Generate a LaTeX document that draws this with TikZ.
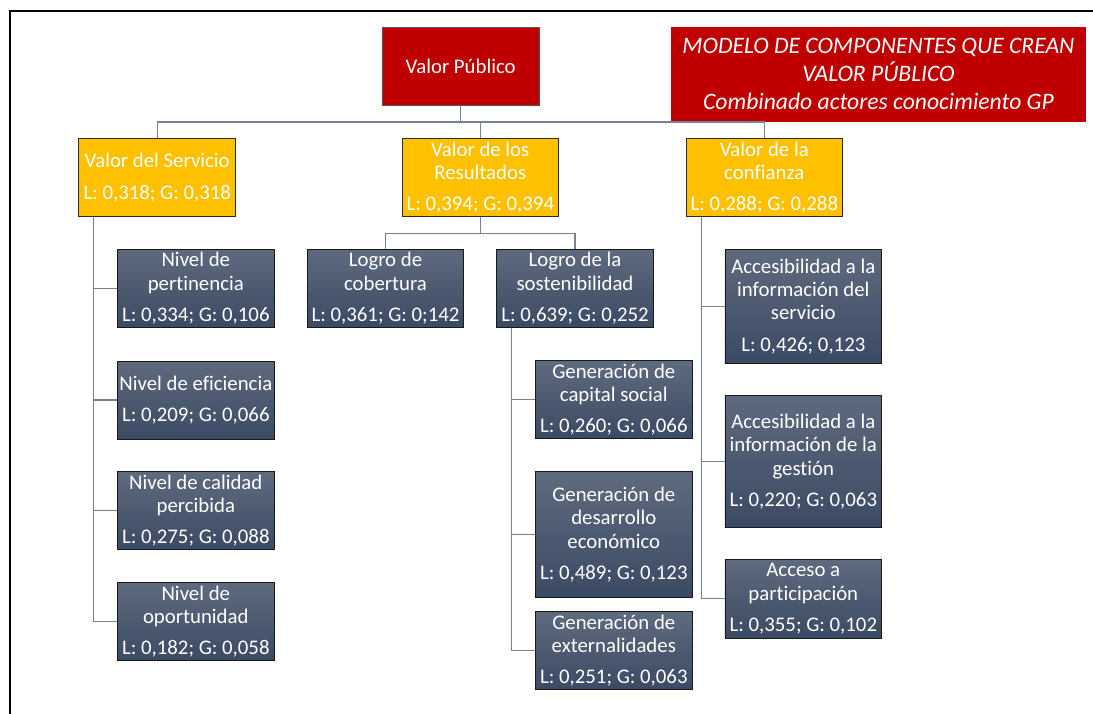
\documentclass[tikz,border=0pt]{standalone}
\usepackage{fontspec}
\setmainfont[Ligatures=NoCommon]{Carlito}
\definecolor{vpred}{HTML}{C00000}
\definecolor{gold}{HTML}{FFC000}
\definecolor{leaftop}{HTML}{5E6A7E}
\definecolor{leafbot}{HTML}{3B4A64}
\definecolor{linkgray}{HTML}{76839A}
\definecolor{edgedark}{HTML}{2B2B2B}
\begin{document}
\begin{tikzpicture}[x=1pt,y=-1pt,
  base/.style={rectangle, inner sep=0pt, minimum width=156.7pt, align=center,
    text=white, font=\fontsize{20.8}{23.3}\selectfont},
  rootbox/.style={base, fill=vpred, draw=edgedark!80, line width=0.8pt},
  titlebox/.style={rectangle, inner sep=0pt, fill=vpred, text=white, align=center,
    minimum width=415pt, minimum height=94.7pt,
    font=\fontsize{23.6}{28}\selectfont\itshape},
  goldbox/.style={base, fill=gold, draw=edgedark, line width=0.8pt, minimum height=78pt},
  leaf/.style={base, top color=leaftop, bottom color=leafbot, draw=black!90,
    line width=0.8pt, minimum height=78pt},
  link/.style={draw=linkgray, line width=1.3pt}]
\useasboundingbox (0,0) rectangle (1093,714);

% outer frame (left and top edges)
\draw[line width=2pt] (9.5,714) |- (1093,11);

% root and title
\node[rootbox, minimum height=78.3pt] (vp) at (460.7,66.2) {Valor Público};
\node[titlebox] (title) at (878.5,74.3)
  {MODELO DE COMPONENTES QUE CREAN\\VALOR PÚBLICO\\Combinado actores conocimiento GP};

% first level
\node[goldbox] (serv) at (157.2,177.7) {Valor del Servicio\\[8pt]L: 0,318; G: 0,318};
\node[goldbox] (res)  at (480.3,177.7) {Valor de los\\Resultados\\[8pt]L: 0,394; G: 0,394};
\node[goldbox] (conf) at (764.3,177.7) {Valor de la\\confianza\\[8pt]L: 0,288; G: 0,288};

% service branch
\node[leaf] (pert) at (195.8,288.3) {Nivel de\\pertinencia\\[8pt]L: 0,334; G: 0,106};
\node[leaf] (efic) at (195.8,400.0) {Nivel de eficiencia\\[8pt]L: 0,209; G: 0,066};
\node[leaf] (cali) at (195.8,510.8) {Nivel de calidad\\percibida\\[8pt]L: 0,275; G: 0,088};
\node[leaf] (opor) at (195.8,621.8) {Nivel de\\oportunidad\\[8pt]L: 0,182; G: 0,058};

% results branch
\node[leaf] (cobe) at (385.5,288.3) {Logro de\\cobertura\\[8pt]L: 0,361; G: 0;142};
\node[leaf] (sost) at (575.0,288.3) {Logro de la\\sostenibilidad\\[8pt]L: 0,639; G: 0,252};
\node[leaf] (capi) at (613.8,399.8) {Generación de\\capital social\\[8pt]L: 0,260; G: 0,066};
\node[leaf, minimum height=125.6pt] (desa) at (613.8,534.5)
  {Generación de\\desarrollo\\económico\\[8pt]L: 0,489; G: 0,123};
\node[leaf] (exte) at (613.8,650.8) {Generación de\\externalidades\\[8pt]L: 0,251; G: 0,063};

% trust branch
\node[leaf, minimum height=114pt] (accs) at (803.3,306.3)
  {Accesibilidad a la\\información del\\servicio\\[8pt]L: 0,426; 0,123};
\node[leaf, minimum height=131.6pt] (accg) at (803.3,461.5)
  {Accesibilidad a la\\información de la\\gestión\\[8pt]L: 0,220; G: 0,063};
\node[leaf, minimum height=79pt] (part) at (803.3,598.8)
  {Acceso a\\participación\\[8pt]L: 0,355; G: 0,102};

% connectors: root to first level
\coordinate (bus) at (460.7,122);
\draw[link] (vp.south) -- (bus);
\draw[link] (serv.north) |- (bus) -| (conf.north);
\draw[link] (res.north) -- (res.north |- bus);

% results to its children
\coordinate (rbus) at (480.3,233.3);
\draw[link] (res.south) -- (rbus);
\draw[link] (cobe.north) |- (rbus) -| (sost.north);

% service children
\coordinate (sv) at ([xshift=15.3pt]serv.south west);
\draw[link] (sv) |- (opor.west);
\draw[link] (sv |- pert.west) -- (pert.west);
\draw[link] (sv |- efic.west) -- (efic.west);
\draw[link] (sv |- cali.west) -- (cali.west);

% sustainability children
\coordinate (st) at ([xshift=15pt]sost.south west);
\draw[link] (st) |- (exte.west);
\draw[link] (st |- capi.west) -- (capi.west);
\draw[link] (st |- desa.west) -- (desa.west);

% trust children
\coordinate (cf) at ([xshift=15.7pt]conf.south west);
\draw[link] (cf) |- (part.west);
\draw[link] (cf |- accs.west) -- (accs.west);
\draw[link] (cf |- accg.west) -- (accg.west);
\end{tikzpicture}
\end{document}
